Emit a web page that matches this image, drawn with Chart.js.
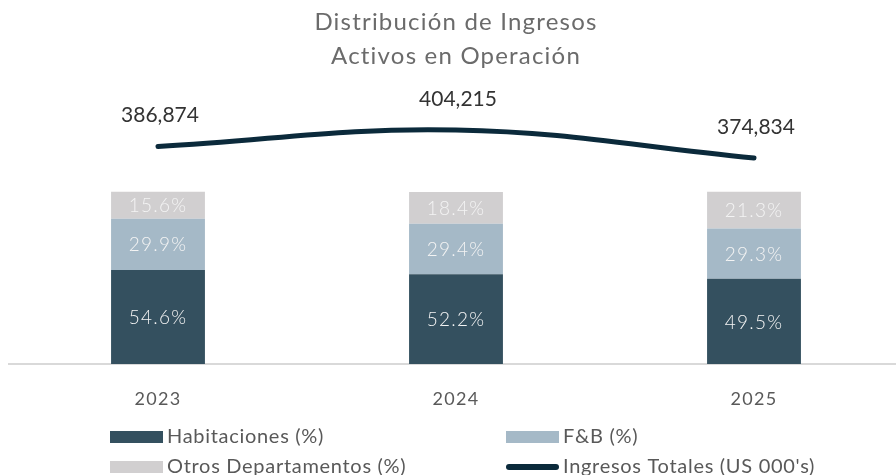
<!DOCTYPE html>
<html><head><meta charset="utf-8">
<script src="https://cdn.jsdelivr.net/npm/chart.js@4.4.1/dist/chart.umd.min.js"></script>
<style>html,body{margin:0;padding:0;overflow:hidden;background:#fff;width:896px;height:475px}
#wrap{position:relative;width:912px;height:475px}</style>
</head><body><div id="wrap"><canvas id="c" width="912" height="475" style="width:912px;height:475px"></canvas></div>
<script>
const years = ['2023','2024','2025'];
const habitaciones = [54.6, 52.2, 49.5];
const fb = [29.9, 29.4, 29.3];
const otros = [15.6, 18.4, 21.3];
const ingresosTotales = [386874, 404215, 374834];
const titleLines = ['Distribución de Ingresos','Activos en Operación'];
const legendLabels = ['Habitaciones (%)','F&B (%)','Otros Departamentos (%)',"Ingresos Totales (US 000's)"];

const C_HAB = '#34505f', C_FB = '#a5b9c7', C_OT = '#d1cfd0', C_LINE = '#0b2a3b';
const FONT = 'Lato, "Open Sans", sans-serif';

const labelsPlugin = {
  id: 'customLabels',
  beforeDraw(chart) {
    chart.ctx.letterSpacing = '1.3px';
  },
  afterDatasetsDraw(chart) {
    const ctx = chart.ctx;
    ctx.save();
    ctx.textAlign = 'center'; ctx.textBaseline = 'middle';
    [0,1,2].forEach(di => {
      const meta = chart.getDatasetMeta(di);
      meta.data.forEach((bar, i) => {
        const v = chart.data.datasets[di].data[i];
        const cy = (bar.y + bar.base) / 2;
        ctx.font = '300 19px ' + FONT;
        ctx.letterSpacing = '1.2px';
        ctx.fillStyle = '#f4f4f4';
        ctx.fillText(v.toFixed(1) + '%', bar.x, cy + 1);
      });
    });
    const lm = chart.getDatasetMeta(3);
    lm.data.forEach((pt, i) => {
      const v = chart.data.datasets[3].data[i];
      ctx.font = '21px ' + FONT;
      ctx.letterSpacing = '0px';
      ctx.fillStyle = '#333333';
      ctx.fillText(v.toLocaleString('en-US'), pt.x + 2, pt.y - 31);
    });
    ctx.restore();
  },
  afterDraw(chart) {
    const ctx = chart.ctx;
    ctx.save();
    ctx.textAlign = 'center'; ctx.textBaseline = 'middle';
    ctx.fillStyle = '#6b6b6b';
    ctx.font = '24px ' + FONT;
    ctx.letterSpacing = '1.2px';
    ctx.fillText(titleLines[0], 456, 22);
    ctx.fillText(titleLines[1], 456, 56);
    ctx.textAlign = 'left';
    ctx.font = '20px ' + FONT;
    ctx.letterSpacing = '0.7px';
    const items = [
      {x:110, y:437, type:'box', color:C_HAB},
      {x:506, y:437, type:'box', color:C_FB},
      {x:110, y:467, type:'box', color:C_OT},
      {x:506, y:467, type:'line', color:C_LINE}
    ];
    items.forEach((it, k) => {
      if (it.type === 'box') {
        ctx.fillStyle = it.color;
        ctx.fillRect(it.x, it.y - 6, 53, 12);
      } else {
        ctx.strokeStyle = it.color; ctx.lineWidth = 6; ctx.lineCap = 'round';
        ctx.beginPath(); ctx.moveTo(it.x + 3, it.y); ctx.lineTo(it.x + 50, it.y); ctx.stroke();
      }
      ctx.fillStyle = '#595959';
      ctx.fillText(legendLabels[k], it.x + 57, it.y);
    });
    ctx.restore();
  }
};

new Chart(document.getElementById('c'), {
  data: {
    labels: years,
    datasets: [
      {type:'bar', label:legendLabels[0], data:habitaciones, backgroundColor:C_HAB, yAxisID:'y', stack:'s', order:2},
      {type:'bar', label:legendLabels[1], data:fb, backgroundColor:C_FB, yAxisID:'y', stack:'s', order:2},
      {type:'bar', label:legendLabels[2], data:otros, backgroundColor:C_OT, yAxisID:'y', stack:'s', order:2},
      {type:'line', label:legendLabels[3], data:ingresosTotales, borderColor:C_LINE, borderWidth:5,
       borderCapStyle:'round', tension:0.4, pointRadius:0, yAxisID:'y2', order:1}
    ]
  },
  options: {
    responsive: false,
    animation: false,
    devicePixelRatio: 1,
    layout: {padding: {top: 80, left: 9, right: 9, bottom: 0}},
    plugins: {legend:{display:false}, title:{display:false}, tooltip:{enabled:false}},
    datasets: {bar: {barPercentage: 0.315, categoryPercentage: 1.0}},
    scales: {
      x: {
        stacked: true,
        grid: {display:false},
        border: {display:true, color:'#d9d9d9', width:2},
        ticks: {color:'#595959', font:{family:FONT, size:18}, padding:16},
        afterFit(scale){ scale.height = 111; }
      },
      y: {stacked: true, display:false, min:0, max:165.1},
      y2: {display:false, min:158674, max:456674}
    }
  },
  plugins: [labelsPlugin]
});
</script>
</body></html>
